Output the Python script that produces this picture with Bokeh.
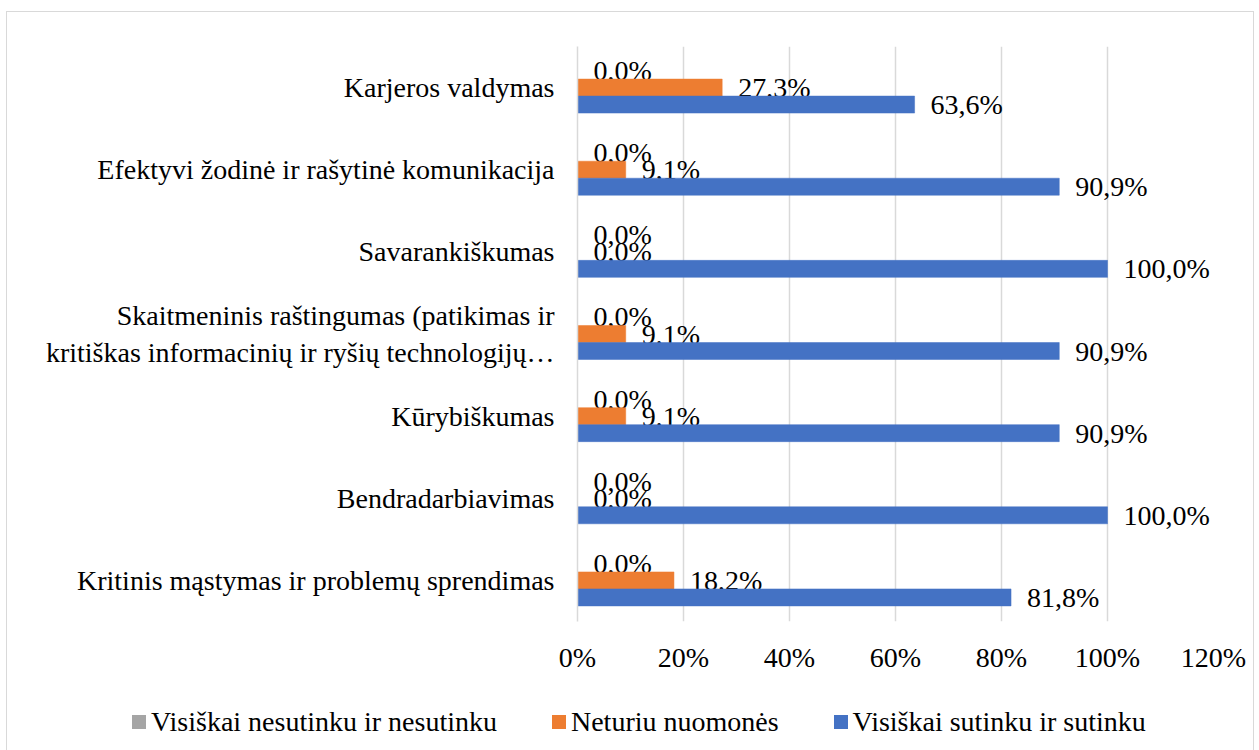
from bokeh.plotting import figure
from bokeh.layouts import column
from bokeh.models import (ColumnDataSource, FactorRange, Range1d, FixedTicker,
                          PrintfTickFormatter, Div)
from bokeh.transform import dodge
from bokeh.core.properties import value
from bokeh.embed import file_html
from bokeh.resources import INLINE

# Data (bottom to top as drawn)
categories = [
    "Kritinis mąstymas ir problemų sprendimas",
    "Bendradarbiavimas",
    "Kūrybiškumas",
    "Skaitmeninis raštingumas (patikimas ir\nkritiškas informacinių ir ryšių technologijų…",
    "Savarankiškumas",
    "Efektyvi žodinė ir rašytinė komunikacija",
    "Karjeros valdymas",
]
disagree = [0.0, 0.0, 0.0, 0.0, 0.0, 0.0, 0.0]
neutral = [18.2, 0.0, 9.1, 9.1, 0.0, 9.1, 27.3]
agree = [81.8, 100.0, 90.9, 90.9, 100.0, 90.9, 63.6]
series_names = ["Visiškai nesutinku ir nesutinku", "Neturiu nuomonės", "Visiškai sutinku ir sutinku"]
colors = ["#A5A5A5", "#ED7D31", "#4472C4"]
x_ticks = [0, 20, 40, 60, 80, 100, 120]

FONT = "Liberation Serif"
FS = "28px"


def fmt(v):
    return f"{v:.1f}".replace(".", ",") + "%"


src = ColumnDataSource(dict(
    cat=categories,
    disagree=disagree, neutral=neutral, agree=agree,
    disagree_lbl=[fmt(v) for v in disagree],
    neutral_lbl=[fmt(v) for v in neutral],
    agree_lbl=[fmt(v) for v in agree],
))

p = figure(frame_width=636, frame_height=575, output_backend="svg", toolbar_location=None,
           y_range=FactorRange(factors=categories, range_padding=0),
           x_range=Range1d(0, 120),
           min_border_left=570, min_border_right=40, min_border_top=34,
           min_border_bottom=46)
p.outline_line_color = None

bh = 0.207
offsets = [bh, 0.0, -bh]
cols = ["disagree", "neutral", "agree"]
for c, off, col in zip(cols, offsets, colors):
    p.hbar(y=dodge("cat", off, range=p.y_range), left=0, right=c, height=bh,
           source=src, fill_color=col, line_color=col, line_width=0.5)
    p.text(x=c, y=dodge("cat", off, range=p.y_range), text=c + "_lbl", source=src,
           x_offset=16, y_offset=0, text_baseline="middle", text_align="left",
           text_font=value(FONT), text_font_size=FS, text_color="#000000")

# axes
p.xaxis.ticker = FixedTicker(ticks=x_ticks)
p.xaxis.formatter = PrintfTickFormatter(format="%d%%")
p.xaxis.axis_line_color = None
p.xaxis.major_tick_line_color = None
p.xaxis.minor_tick_line_color = None
p.xaxis.major_label_text_font = FONT
p.xaxis.major_label_text_font_size = FS
p.xaxis.major_label_text_color = "#000000"
p.xaxis.major_label_standoff = 14

p.yaxis.axis_line_color = "#d9d9d9"
p.yaxis.axis_line_width = 1.5
p.yaxis.major_tick_line_color = None
p.yaxis.minor_tick_line_color = None
p.yaxis.major_label_text_font = FONT
p.yaxis.major_label_text_font_size = FS
p.yaxis.major_label_text_color = "#000000"
p.yaxis.major_label_standoff = 17

p.xgrid.ticker = FixedTicker(ticks=x_ticks)
p.xgrid.grid_line_color = "#d9d9d9"
p.xgrid.grid_line_width = 1.5
p.ygrid.grid_line_color = None

# legend row below the chart
LW = 570 + 636 + 40
LH = 80
entries = "".join(
    f'<span style="display:inline-flex;align-items:center;margin-right:55px">'
    f'<span style="display:inline-block;width:14px;height:14px;background:{c};margin-right:5px"></span>'
    f'{n}</span>'
    for n, c in zip(series_names, colors)
)
legend_html = (
    f'<div style="display:flex;align-items:center;padding-left:125px;padding-top:30px;'
    f"font-family:'{FONT}';font-size:{FS};line-height:34px;color:#000000;white-space:nowrap\">"
    f'{entries}</div>'
)
legend_div = Div(text=legend_html, width=LW, height=LH, margin=0)

layout = column(p, legend_div, spacing=0)
layout.margin = (11, 0, 0, 6)
layout.styles = {"border": "1px solid #d9d9d9"}

open("out.html", "w").write(file_html(layout, INLINE))
